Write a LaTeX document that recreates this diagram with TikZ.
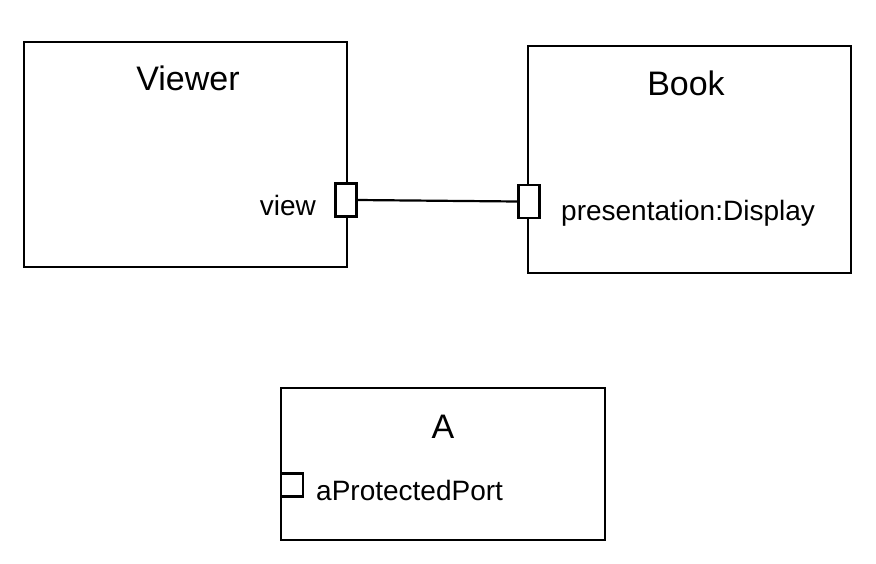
\documentclass[tikz,border=0pt]{standalone}
\usepackage{fontspec}
\setmainfont{Liberation Sans}
\begin{document}
\begin{tikzpicture}[x=1pt,y=-1pt,
  classbox/.style={draw, line width=2.2pt, inner sep=0pt},
  portbox/.style={draw, line width=2.2pt, fill=white, inner sep=0pt, minimum width=21pt, minimum height=33pt},
  portsq/.style={draw, line width=2.2pt, fill=white, inner sep=0pt, minimum width=22pt, minimum height=23pt},
  title/.style={inner sep=0pt, anchor=base, font=\fontsize{34}{40}\selectfont},
  lbl/.style={inner sep=0pt, font=\fontsize{28}{34}\selectfont},
  conn/.style={line width=2.2pt}]
\useasboundingbox (0,0) rectangle (876,563);
\node[classbox, minimum width=323pt, minimum height=225pt] (viewer) at (185.5,154.5) {};
\node[classbox, minimum width=323pt, minimum height=227pt] (book) at (689.5,159.5) {};
\node[classbox, minimum width=324pt, minimum height=152pt] (a) at (443,464) {};
\node[title] (viewertitle) at (188,90) {Viewer};
\node[title] (booktitle) at (686,95) {Book};
\node[title] (atitle) at (443,438) {A};
\node[portbox] (vport) at (346,200) {};
\node[portbox] (bport) at (529,201.5) {};
\node[portsq] (aport) at (292,485) {};
\draw[conn] (vport.east) -- (bport.west);
\node[lbl, anchor=base east] (viewlbl) at (316,215) {view};
\node[lbl, anchor=base west] (preslbl) at (561,220) {presentation:Display};
\node[lbl, anchor=base west] (aportlbl) at (316,500) {aProtectedPort};
\end{tikzpicture}
\end{document}
